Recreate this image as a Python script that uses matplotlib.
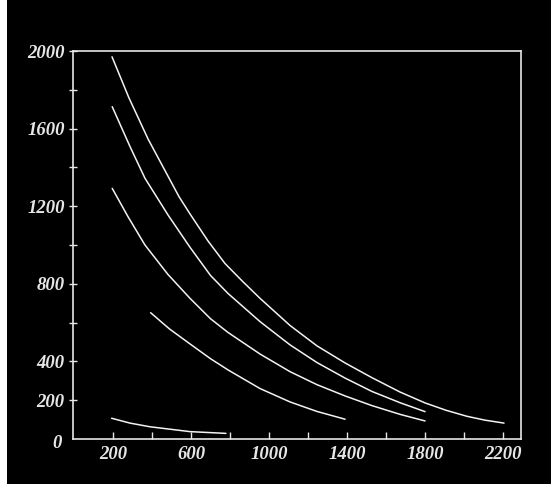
import matplotlib.pyplot as plt
from matplotlib.patches import Rectangle

# values
curve_a_x = [195, 282, 380, 538, 595, 687, 774, 862, 954, 1108, 1246, 1390, 1528, 1672, 1800, 1908, 2015, 2108, 2205]
curve_a_y = [1970, 1758, 1546, 1250, 1160, 1021, 905, 815, 725, 585, 480, 392, 316, 242, 186, 148, 117, 97, 82]

curve_b_x = [196, 287, 364, 482, 595, 700, 790, 954, 1108, 1246, 1390, 1528, 1672, 1800]
curve_b_y = [1713, 1508, 1344, 1155, 988, 843, 750, 605, 485, 394, 314, 245, 187, 141]

curve_c_x = [196, 277, 364, 482, 595, 700, 790, 954, 1108, 1246, 1390, 1528, 1672, 1800]
curve_c_y = [1292, 1146, 1000, 848, 725, 620, 549, 438, 347, 280, 222, 172, 127, 93]

curve_d_x = [393, 490, 595, 700, 790, 954, 1108, 1246, 1390]
curve_d_y = [651, 567, 490, 414, 356, 260, 191, 142, 102]

curve_e_x = [193, 287, 390, 595, 779]
curve_e_y = [107, 82, 63, 38, 29]

x_ticks = [200, 400, 600, 800, 1000, 1200, 1400, 1600, 1800, 2000, 2200]
x_labels = ['200', '', '600', '', '1000', '', '1400', '', '1800', '', '2200']
y_ticks = [200, 400, 600, 800, 1000, 1200, 1400, 1600, 1800, 2000]
y_labels = ['200', '400', '', '800', '', '1200', '', '1600', '', '2000']

fig = plt.figure(figsize=(5.51, 4.84), dpi=100, facecolor='black')
# white scan margin on the left
fig.patches.append(Rectangle((0, 0), 7 / 551, 1, transform=fig.transFigure,
                             facecolor='white', edgecolor='none'))

ax = fig.add_axes([73 / 551, 45 / 484, 448 / 551, 388 / 484])
ax.set_facecolor('black')

line_col = '#f2f2f2'
for xs, ys in [(curve_a_x, curve_a_y), (curve_b_x, curve_b_y), (curve_c_x, curve_c_y),
               (curve_d_x, curve_d_y), (curve_e_x, curve_e_y)]:
    ax.plot(xs, ys, color=line_col, lw=1.1, solid_capstyle='round', solid_joinstyle='round')

ax.set_xlim(-5, 2292)
ax.set_ylim(0, 2000)

for sp in ax.spines.values():
    sp.set_color('#e6e6e6')
    sp.set_linewidth(1.2)

font = dict(family='Liberation Serif', style='italic', weight='bold', size=13.5)
ax.set_xticks(x_ticks, x_labels, **font)
ax.set_yticks(y_ticks, y_labels, **font)
ax.tick_params(axis='x', direction='in', length=5, width=1, colors='#e6e6e6', pad=5)
ax.tick_params(axis='y', direction='inout', length=6, width=1, colors='#e6e6e6', pad=3)
ax.text(-0.025, -0.012, '0', transform=ax.transAxes, ha='right', va='center',
        color='#e6e6e6', **font)

fig.savefig('out.png', dpi=100, facecolor='black')
